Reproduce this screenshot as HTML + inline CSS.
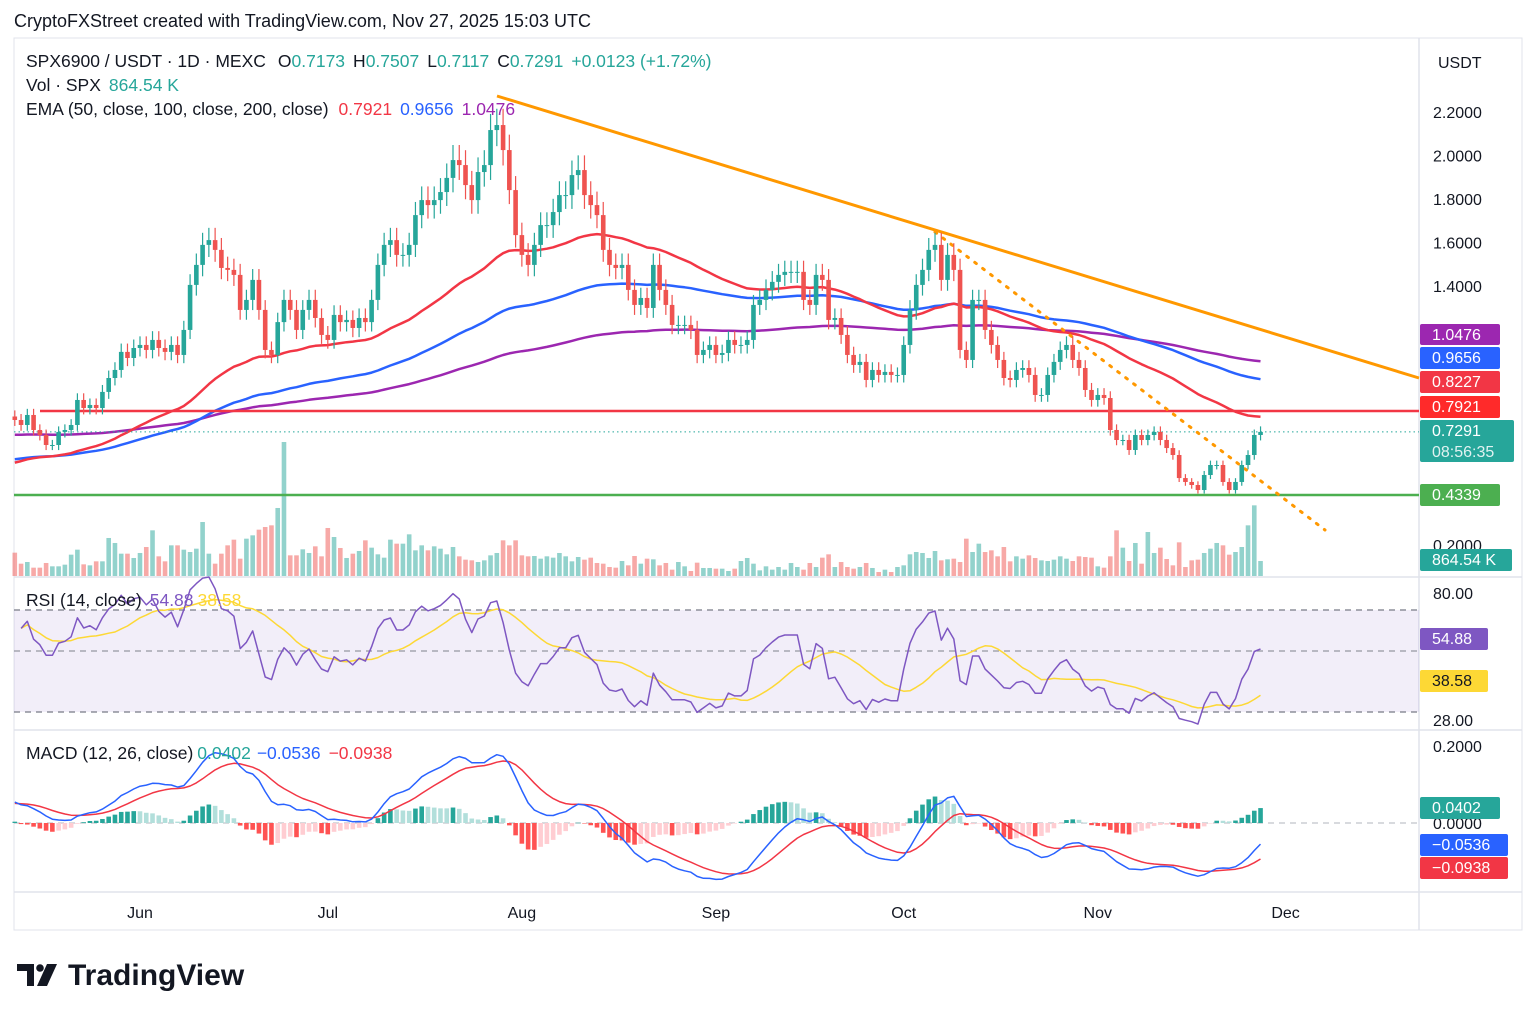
<!DOCTYPE html>
<html><head><meta charset="utf-8">
<style>
body{margin:0;background:#fff;width:1536px;height:1017px;overflow:hidden;font-family:"Liberation Sans",sans-serif;}
#wrap{position:relative;width:1536px;height:1017px;}
.hdr{position:absolute;left:14px;top:11px;font-size:18px;color:#131722;}
svg text{font-family:"Liberation Sans",sans-serif;}
</style></head>
<body>
<div id="wrap">
<div class="hdr">CryptoFXStreet created with TradingView.com, Nov 27, 2025 15:03 UTC</div>
<svg id="chart" width="1536" height="1017" style="position:absolute;left:0;top:0"></svg>
</div>
<script>
const closes=[0.784,0.761,0.807,0.738,0.715,0.669,0.669,0.729,0.738,0.761,0.876,0.839,0.853,0.839,0.913,0.977,1.014,1.097,1.069,1.115,
1.129,1.106,1.152,1.115,1.097,1.129,1.083,1.198,1.405,1.497,1.589,1.611,1.566,1.483,1.474,1.451,1.290,1.336,1.428,1.290,
1.106,1.083,1.234,1.336,1.290,1.198,1.290,1.336,1.253,1.175,1.152,1.267,1.234,1.244,1.207,1.253,1.234,1.336,1.497,1.589,
1.611,1.543,1.543,1.589,1.726,1.795,1.772,1.795,1.832,1.897,1.979,1.956,1.864,1.795,1.924,1.956,2.117,2.140,2.025,1.841,
1.634,1.543,1.497,1.589,1.680,1.680,1.740,1.818,1.818,1.910,1.933,1.818,1.772,1.726,1.566,1.497,1.483,1.497,1.382,1.313,
1.345,1.299,1.497,1.382,1.313,1.221,1.221,1.221,1.198,1.083,1.106,1.129,1.083,1.092,1.152,1.129,1.129,1.152,1.313,1.336,
1.382,1.419,1.451,1.465,1.465,1.465,1.336,1.313,1.451,1.428,1.244,1.253,1.175,1.083,1.037,1.051,0.968,1.014,0.991,1.005,
0.991,0.991,1.129,1.290,1.405,1.474,1.566,1.589,1.428,1.543,1.474,1.106,1.060,1.336,1.336,1.198,1.129,1.060,0.977,0.968,
1.014,1.023,0.991,0.899,0.899,0.991,1.051,1.106,1.129,1.060,1.023,0.922,0.876,0.899,0.885,0.738,0.692,0.692,0.646,0.715,
0.692,0.715,0.729,0.692,0.655,0.623,0.517,0.499,0.485,0.462,0.531,0.577,0.577,0.499,0.462,0.499,0.577,0.623,0.715,0.7291];
const volumesK=[1344,710,806,480,480,749,557,557,653,1229,1517,672,614,845,845,2189,1901,1286,1286,1037,
1325,1670,2630,1133,845,1766,1766,1517,1382,1574,3110,1286,710,1286,1766,2093,998,2150,2342,2669,
2822,2918,3917,7718,1190,1190,1536,1325,1709,1133,2765,2246,1613,1037,1286,1440,2054,1632,1248,1056,
2093,1862,1862,2400,1478,1766,1478,1709,1574,1248,1670,1133,941,902,806,902,1190,1325,2054,1766,
2054,1190,1133,1152,998,1133,1056,1325,1133,845,1094,941,1056,749,710,518,480,864,614,1152,
710,998,960,614,749,365,806,557,288,768,461,461,422,422,288,422,864,1037,710,326,
557,365,518,365,749,518,365,749,518,1056,1248,518,806,518,422,518,749,461,230,365,
230,518,614,1248,1382,1325,1037,1440,902,960,998,806,2150,1382,1862,1382,1478,1133,1670,845,
1133,998,1190,1037,902,864,941,1133,998,864,1133,1094,1056,557,480,1133,2630,1632,864,1901,
710,2534,1325,1632,979,614,1939,518,902,941,1325,1574,1901,1766,1229,1382,1670,2918,4070,864.54];
const monthLabels=["Jun","Jul","Aug","Sep","Oct","Nov","Dec"];
const monthDayIndex=[20,50,81,112,142,173,203];
const priceTicks=[2.2,2.0,1.8,1.6,1.4];
const emaSeeds=[0.58,0.60,0.715];
const macdSeeds=[0.80,0.74,0.05];
const rsiSeeds=[0.030,0.016];
const firstOpen=0.80;

const svg=document.getElementById('chart');
const NS='http://www.w3.org/2000/svg';
function mk(tag,attrs,parent){const e=document.createElementNS(NS,tag);for(const k in attrs)e.setAttribute(k,attrs[k]);(parent||svg).appendChild(e);return e;}
const X0=14.8,DX=6.26;
const xs=i=>X0+i*DX;
const py=p=>112+(2.2-p)*217.5;
const vy=v=>576-v/57.6;
const ry=r=>610+(70-r)*2.55;
const my=m=>823-m*385;
const N=closes.length;
const opens=closes.map((c,i)=>i===0?firstOpen:closes[i-1]);

let e;
e=mk('rect',{x:14,y:38,width:1508,height:892,fill:'none',stroke:'#e0e3eb'});

[[1419,38,1419,930],[14,577,1522,577],[14,730,1522,730],[14,892,1522,892]].forEach(a=>{
 e=mk('line',{x1:a[0],y1:a[1],x2:a[2],y2:a[3],stroke:'#e0e3eb','stroke-width':1.5});
 
});

e=mk('rect',{x:14,y:ry(70),width:1405,height:ry(30)-ry(70),fill:'#7e57c2','fill-opacity':0.1});

[[ry(70),'#787b86'],[651,'#9598a1'],[ry(30),'#787b86']].forEach(a=>{
 e=mk('line',{x1:14,y1:a[0],x2:1419,y2:a[0],stroke:a[1],'stroke-dasharray':'6 5','stroke-width':1.2});
 
});
e=mk('line',{x1:14,y1:my(0),x2:1419,y2:my(0),stroke:'#b2b5be','stroke-dasharray':'6 5'});


for(let i=0;i<N;i++){
 const up=closes[i]>=opens[i];
 e=mk('rect',{x:xs(i)-2.3,y:vy(volumesK[i]),width:4.6,height:576-vy(volumesK[i]),fill:up?'#26a69a':'#ef5350','fill-opacity':0.5});
 
}

function ema(arr,n,seed){const a=2/(n+1);let v=seed;return arr.map(c=>(v=v+a*(c-v)));}
const e50=ema(closes,50,emaSeeds[0]),e100=ema(closes,100,emaSeeds[1]),e200=ema(closes,200,emaSeeds[2]);
function line(vals,f,color,w,name,start){let d='';for(let i=start||0;i<vals.length;i++){d+=(d?'L':'M')+xs(i).toFixed(1)+','+f(vals[i]).toFixed(1);}
 const p=mk('path',{d:d,fill:'none',stroke:color,'stroke-width':w,'stroke-linejoin':'round'});
 return p;}
line(e200,py,'#9c27b0',2.5,'ema-200-line');
line(e100,py,'#2962ff',2.5,'ema-100-line');
line(e50,py,'#f23645',2.5,'ema-50-line');

e=mk('line',{x1:40,y1:411,x2:1419,y2:411,stroke:'#f23645','stroke-width':2.5});

e=mk('line',{x1:14,y1:495,x2:1419,y2:495,stroke:'#4caf50','stroke-width':2.5});

e=mk('line',{x1:14,y1:py(0.7291),x2:1419,y2:py(0.7291),stroke:'#26a69a','stroke-dasharray':'1.5 3'});

e=mk('line',{x1:497,y1:96,x2:1419,y2:378,stroke:'#ff9800','stroke-width':3});

e=mk('line',{x1:935,y1:232,x2:1325,y2:530,stroke:'#ff9800','stroke-width':3,'stroke-dasharray':'2 8','stroke-linecap':'round'});


for(let i=0;i<N;i++){
 const o=opens[i],c=closes[i],up=c>=o,col=up?'#26a69a':'#ef5350';
 const hi=Math.max(o,c)*1.035,lo=Math.min(o,c)*0.965;
 e=mk('line',{x1:xs(i),y1:py(hi),x2:xs(i),y2:py(lo),stroke:col,'stroke-width':1.2});
 
 const t=py(Math.max(o,c)),b=py(Math.min(o,c));
 e=mk('rect',{x:xs(i)-2.3,y:t,width:4.6,height:Math.max(1,b-t),fill:col});
 
}

const rsi=[null];let ag=rsiSeeds[0],al=rsiSeeds[1];
for(let i=1;i<N;i++){const d=closes[i]-closes[i-1];const g=Math.max(d,0),l=Math.max(-d,0);
 ag=(ag*13+g)/14;al=(al*13+l)/14;
 rsi.push(100-100/(1+ag/al));}
const rsiMa=rsi.map((v,i)=>{if(i<1)return null;const s=rsi.slice(Math.max(1,i-13),i+1);return s.reduce((a,b)=>a+b,0)/s.length;});
line(rsiMa,ry,'#fdd835',1.5,'rsi-ma-line',1);
line(rsi,ry,'#7e57c2',1.5,'rsi-line',1);

const f12=ema(closes,12,macdSeeds[0]),s26=ema(closes,26,macdSeeds[1]);
const macd=f12.map((v,i)=>v-s26[i]);const sig=ema(macd,9,macdSeeds[2]);
for(let i=0;i<N;i++){const h=macd[i]-sig[i],ph=i?macd[i-1]-sig[i-1]:0;
 const col=h>=0?(h>=ph?'#26a69a':'#b2dfdb'):(h<ph?'#ff5252':'#ffcdd2');
 const t=Math.min(my(h),my(0)),hh=Math.abs(my(h)-my(0));
 e=mk('rect',{x:xs(i)-2.3,y:t,width:4.6,height:Math.max(0.5,hh),fill:col});
 }
line(sig,my,'#f23645',1.5,'macd-signal-line');
line(macd,my,'#2962ff',1.5,'macd-line');

function txt(x,y,s,attrs,name){const t=mk('text',Object.assign({x:x,y:y,'font-size':16,fill:'#131722'},attrs||{}));t.textContent=s;
 return t;}
priceTicks.forEach(p=>txt(1433,py(p)+6,p.toFixed(4),{},'price-tick'));
txt(1433,551,'0.2000',{},'price-tick');
txt(1438,68,'USDT',{},'currency-label');
txt(1433,599,'80.00',{},'rsi-tick');txt(1433,726,'28.00',{},'rsi-tick');
txt(1433,752,'0.2000',{},'macd-tick');txt(1433,829,'0.0000',{},'macd-tick');
monthLabels.forEach((m,k)=>txt(xs(monthDayIndex[k]),918,m,{'text-anchor':'middle'},'month-label'));

function badge(y,h,w,bg,s,fg,name,s2){const r=mk('rect',{x:1420,y:y,width:w,height:h,rx:2,fill:bg});
 txt(1432,y+16,s,{fill:fg||'#fff'},name+'-text');if(s2)txt(1432,y+37,s2,{fill:'#e0f2f1'},name+'-timer');}
badge(324,21,80,'#9c27b0','1.0476','#fff','ema200-badge');
badge(347,22,80,'#2962ff','0.9656','#fff','ema100-badge');
badge(371,22,80,'#f23645','0.8227','#fff','trendline-badge');
badge(396,22,80,'#ff2a2a','0.7921','#fff','ema50-badge');
badge(420,42,94,'#26a69a','0.7291','#fff','last-price-badge','08:56:35');
badge(484,22,80,'#4caf50','0.4339','#fff','support-badge');
badge(549,22,92,'#26a69a','864.54 K','#fff','volume-badge');
badge(628,22,68,'#7e57c2','54.88','#fff','rsi-badge');
badge(670,22,68,'#fdd835','38.58','#131722','rsi-ma-badge');
badge(797,22,80,'#26a69a','0.0402','#fff','macd-hist-badge');
badge(834,22,88,'#2962ff','−0.0536','#fff','macd-badge');
badge(857,22,88,'#f23645','−0.0938','#fff','macd-signal-badge');

function legend(y,parts,name){const t=mk('text',{x:26,y:y,'font-size':17.5,fill:'#131722'});
 parts.forEach(p=>{const s=mk('tspan',{fill:p[1]||'#131722'},t);if(p[2])s.setAttribute('dx',p[2]);s.textContent=p[0];});}
const G='#26a69a';
legend(67,[['SPX6900 / USDT · 1D · MEXC'],['O','#131722',12],['0.7173',G],['H','#131722',8],['0.7507',G],['L','#131722',8],['0.7117',G],['C','#131722',8],['0.7291',G],['+0.0123 (+1.72%)',G,8]],'symbol-legend');
legend(91,[['Vol · SPX'],['864.54 K',G,8]],'volume-legend');
legend(115,[['EMA (50, close, 100, close, 200, close)'],['0.7921','#f23645',10],['0.9656','#2962ff',8],['1.0476','#9c27b0',8]],'ema-legend');
legend(606,[['RSI (14, close)'],['54.88','#7e57c2',8],['38.58','#fdd835',4]],'rsi-legend');
legend(759,[['MACD (12, 26, close)'],['0.0402',G,4],['−0.0536','#2962ff',6],['−0.0938','#f23645',8]],'macd-legend');

const lg=mk('g',{});
mk('path',{d:'M17 964h17v22h-7v-15h-10z',fill:'#131722'},lg);
mk('circle',{cx:40,cy:968,r:3.8,fill:'#131722'},lg);
mk('path',{d:'M47 964h10l-10 22h-10z',fill:'#131722'},lg);
const lt=mk('text',{x:68,y:985,'font-size':30,'font-weight':'bold',fill:'#131722'},lg);lt.textContent='TradingView';

</script>
</body></html>
